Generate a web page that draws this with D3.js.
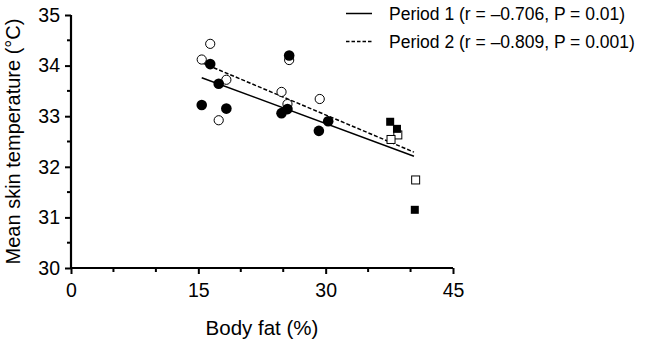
<!DOCTYPE html>
<html><head><meta charset="utf-8">
<script src="https://cdn.jsdelivr.net/npm/d3@7"></script>
<style>body{margin:0;background:#fff}svg{display:block}text{font-family:"Liberation Sans",Arial,sans-serif;fill:#000}</style>
</head><body>
<svg id="c" width="646" height="341"></svg>
<script>
// Period 1 (filled markers)
const p1CircleX = [16.4, 17.4, 15.4, 18.3, 25.7, 25.5, 24.8, 30.3, 29.2];
const p1CircleY = [34.03, 33.64, 33.22, 33.15, 34.20, 33.14, 33.06, 32.90, 32.71];
const p1SquareX = [37.6, 38.4, 40.5];
const p1SquareY = [32.89, 32.75, 31.15];
// Period 2 (open markers)
const p2CircleX = [16.4, 15.4, 18.3, 17.4, 25.7, 24.8, 29.3, 25.5];
const p2CircleY = [34.43, 34.12, 33.72, 32.92, 34.11, 33.48, 33.34, 33.24];
const p2SquareX = [38.5, 37.7, 40.6];
const p2SquareY = [32.63, 32.54, 31.74];
// Regression lines (endpoints)
const fit1X = [15.4, 40.4], fit1Y = [33.76, 32.21];
const fit2X = [15.5, 40.4], fit2Y = [34.05, 32.29];
const xTicks = [0, 15, 30, 45];
const yTicks = [30, 31, 32, 33, 34, 35];
const legendLabels = ["Period 1 (r = \u20130.706, P = 0.01)", "Period 2 (r = \u20130.809, P = 0.001)"];

const FONT = '"Liberation Sans",Arial,sans-serif';
const svg = d3.select("#c");
const x = d3.scaleLinear().domain([0, 45]).range([71, 453]);
const y = d3.scaleLinear().domain([30, 35]).range([268, 15]);

// axes
const xAxis = d3.axisBottom(x).tickValues(xTicks).tickSize(6).tickPadding(3).tickFormat(d3.format("d"));
const gx = svg.append("g").attr("transform", `translate(0,${y(30)})`).call(xAxis);
gx.append("g").selectAll("line").data(d3.range(5, 45, 5).filter(v => v % 15 !== 0)).join("line")
  .attr("x1", d => x(d)).attr("x2", d => x(d)).attr("y1", 0).attr("y2", 4).attr("stroke", "#000").attr("stroke-width", 2);
const yAxis = d3.axisLeft(y).tickValues(yTicks).tickSize(6).tickPadding(5).tickFormat(d3.format("d"));
const gy = svg.append("g").attr("transform", `translate(${x(0)},0)`).call(yAxis);
gy.append("g").selectAll("line").data(d3.range(30.5, 35, 1)).join("line")
  .attr("y1", d => y(d)).attr("y2", d => y(d)).attr("x1", 0).attr("x2", -4).attr("stroke", "#000").attr("stroke-width", 2);
[gx, gy].forEach(g => {
  g.select(".domain").attr("stroke-width", 2.2);
  g.selectAll(".tick line").attr("stroke-width", 2);
  g.selectAll(".tick text").attr("font-size", 19.5).attr("font-family", FONT);
});
gx.select(".domain").attr("d", `M${x(0)},0H${x(45)}`);
gy.select(".domain").attr("d", `M0,${y(30)}V${y(35)}`);
gx.selectAll(".tick text").attr("y", 28.5).attr("dy", 0);

svg.append("text").attr("x", (x(0) + x(45)) / 2).attr("y", 335).attr("text-anchor", "middle").attr("font-size", 20.5).text("Body fat (%)");
svg.append("text").attr("transform", `translate(19.5,${(y(30) + y(35)) / 2}) rotate(-90)`).attr("text-anchor", "middle").attr("font-size", 20).text("Mean skin temperature (\u00B0C)");

// lines
const ln = d3.line().x(d => x(d[0])).y(d => y(d[1]));
svg.append("path").attr("d", ln(d3.zip(fit1X, fit1Y))).attr("stroke", "#000").attr("stroke-width", 1.5).attr("fill", "none");
svg.append("path").attr("d", ln(d3.zip(fit2X, fit2Y))).attr("stroke", "#000").attr("stroke-width", 1.5).attr("stroke-dasharray", "4,2").attr("fill", "none");

// markers
svg.append("g").selectAll("circle").data(d3.zip(p2CircleX, p2CircleY)).join("circle")
  .attr("cx", d => x(d[0])).attr("cy", d => y(d[1])).attr("r", 4.6).attr("fill", "#fff").attr("stroke", "#000").attr("stroke-width", 1);
svg.append("g").selectAll("rect").data(d3.zip(p2SquareX, p2SquareY)).join("rect")
  .attr("x", d => x(d[0]) - 4).attr("y", d => y(d[1]) - 4).attr("width", 8).attr("height", 8).attr("fill", "#fff").attr("stroke", "#000").attr("stroke-width", 1);
svg.append("g").selectAll("circle").data(d3.zip(p1CircleX, p1CircleY)).join("circle")
  .attr("cx", d => x(d[0])).attr("cy", d => y(d[1])).attr("r", 5.3).attr("fill", "#000");
svg.append("g").selectAll("rect").data(d3.zip(p1SquareX, p1SquareY)).join("rect")
  .attr("x", d => x(d[0]) - 4).attr("y", d => y(d[1]) - 4).attr("width", 8).attr("height", 8).attr("fill", "#000");

// legend
const lg = svg.append("g");
legendLabels.forEach((t, i) => {
  const yy = 13.5 + i * 28;
  lg.append("line").attr("x1", 346).attr("x2", 372).attr("y1", yy).attr("y2", yy).attr("stroke", "#000").attr("stroke-width", 1.5)
    .attr("stroke-dasharray", i === 1 ? "3.5,2" : null);
  lg.append("text").attr("x", 389).attr("y", yy + 6).attr("font-size", 17.5).text(t);
});
</script>
</body></html>
